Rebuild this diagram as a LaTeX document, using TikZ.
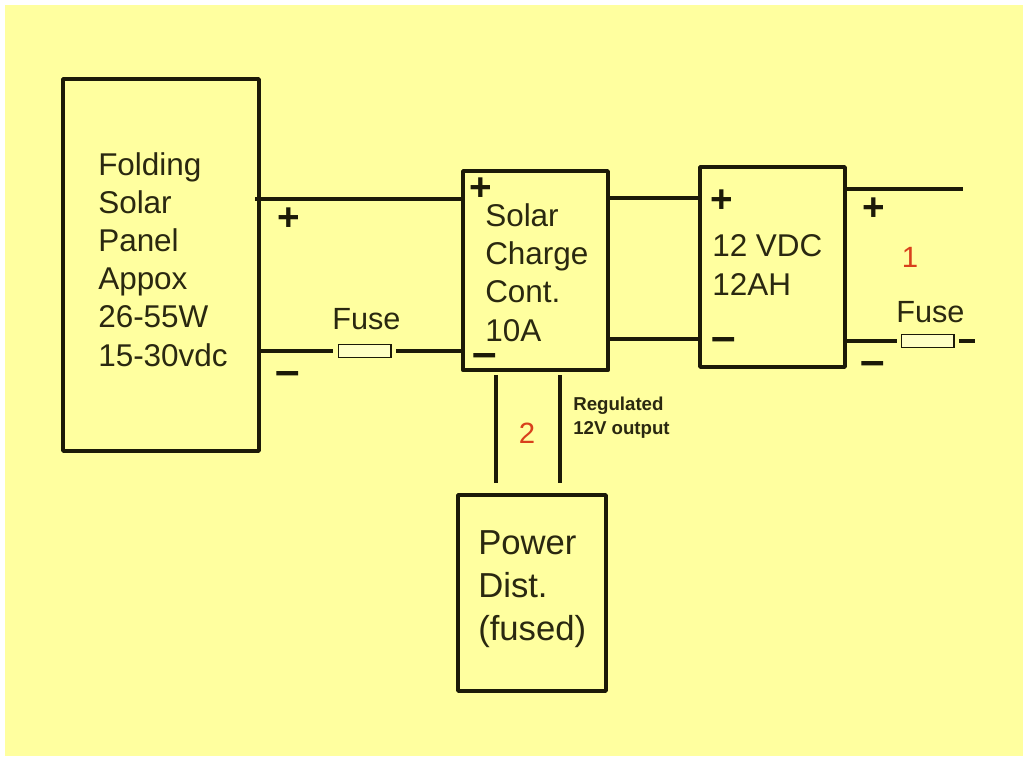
\documentclass[tikz,border=0pt]{standalone}
\usepackage{fontspec}
\setmainfont{Liberation Sans}
\definecolor{bg}{HTML}{FFFF9F}
\definecolor{ink}{HTML}{1C1A08}
\definecolor{inktext}{HTML}{2A2810}
\definecolor{redn}{HTML}{D8401C}
\tikzset{
  x=0.75pt,y=-0.75pt,
  box/.style={draw=ink,line width=2.8pt,inner sep=0pt,outer sep=0pt,anchor=north west,line join=round},
  wire/.style={draw=ink,line width=2.6pt},
  fusebox/.style={draw=ink,line width=1pt,fill=bg!60!white,inner sep=0pt,outer sep=0pt,minimum width=39.5pt,minimum height=10pt},
  lbl/.style={anchor=base west,inner sep=0pt,text=inktext,align=left,font=\fontsize{23.6}{28.6}\selectfont},
  fuselbl/.style={anchor=base west,inner sep=0pt,text=inktext,font=\fontsize{23}{28}\selectfont},
  lblwide/.style={anchor=base west,inner sep=0pt,text=inktext,align=left,font=\fontsize{26}{32.25}\selectfont},
  small/.style={anchor=base west,inner sep=0pt,text=inktext,align=left,font=\fontsize{14}{18}\selectfont\bfseries},
  rednum/.style={anchor=base,inner sep=0pt,text=redn,font=\fontsize{22}{24}\selectfont},
  plussign/.style={inner sep=0pt,text=ink,font=\fontsize{29}{29}\selectfont\bfseries},
  minussign/.style={inner sep=0pt,text=ink,font=\fontsize{33}{33}\selectfont\bfseries},
}
\begin{document}
\begin{tikzpicture}
\useasboundingbox (0,0) rectangle (1023,756);
\fill[white] (0,0) rectangle (1023,756);
\fill[bg] (5,5) rectangle (1023,756);
% boxes
\node[box,minimum width=147pt,minimum height=279pt] (panel) at (63,79) {};
\node[box,minimum width=108.75pt,minimum height=149.5pt] (charge) at (463,171) {};
\node[box,minimum width=108.75pt,minimum height=150pt] (battery) at (700,167) {};
\node[box,minimum width=111pt,minimum height=147pt] (power) at (458,495) {};
% fuses
\node[fusebox] (fuseA) at (364.5,351) {};
\node[fusebox] (fuseB) at (927.5,341) {};
% free ends
\coordinate (panelPlus) at (255,199);
\coordinate (panelMinus) at (260,351);
\coordinate (chargePlus) at (463,199);
\coordinate (chargeMinus) at (463,351);
\coordinate (chargeOutP) at (608,198);
\coordinate (chargeOutM) at (608,339);
\coordinate (batP) at (700,198);
\coordinate (batM) at (700,339);
\coordinate (batOutP) at (845,189);
\coordinate (outP) at (963,189);
\coordinate (batOutM) at (845,341);
\coordinate (fuseBL) at (897,341);
\coordinate (fuseBR) at (959,341);
\coordinate (outM) at (975,341);
\coordinate (fuseAL) at (333,351);
\coordinate (fuseAR) at (396,351);
\coordinate (loadAtop) at (496,375);
\coordinate (loadAbot) at (496,483);
\coordinate (loadBtop) at (560,375);
\coordinate (loadBbot) at (560,483);
% wires
\draw[wire] (panelPlus) -- (chargePlus);
\draw[wire] (panelMinus) -- (fuseAL);
\draw[wire] (fuseAR) -- (chargeMinus);
\draw[wire] (chargeOutP) -- (batP);
\draw[wire] (chargeOutM) -- (batM);
\draw[wire] (batOutP) -- (outP);
\draw[wire] (batOutM) -- (fuseBL);
\draw[wire] (fuseBR) -- (outM);
\draw[wire] (loadAtop) -- (loadAbot);
\draw[wire] (loadBtop) -- (loadBbot);
% labels (the reference point of a multi-line node is its last line's baseline)
\node[lbl] (tPanel) at (98,366) {Folding\\Solar\\Panel\\Appox\\26-55W\\15-30vdc};
\node[lbl] (tCharge) at (485,341) {Solar\\Charge\\Cont.\\10A};
\node[lbl] (tBat) at (712,295) {12 VDC\\12AH};
\node[lblwide] (tPower) at (478,640) {Power\\Dist.\\(fused)};
\node[fuselbl] (tFuseA) at (332,329) {Fuse};
\node[fuselbl] (tFuseB) at (896,322) {Fuse};
\node[small] (tReg) at (573,434) {Regulated\\12V output};
\node[rednum] (n2) at (527,443) {2};
\node[rednum] (n1) at (910,267) {1};
% polarity
\node[plussign] (p1) at (289,219) {+};
\node[plussign] (p2) at (481,189) {+};
\node[plussign] (p3) at (722,201) {+};
\node[plussign] (p4) at (874,209) {+};
\node[minussign] (m1) at (288,379) {–};
\node[minussign] (m2) at (485,361) {–};
\node[minussign] (m3) at (724,345) {–};
\node[minussign] (m4) at (873,369) {–};
\end{tikzpicture}
\end{document}
